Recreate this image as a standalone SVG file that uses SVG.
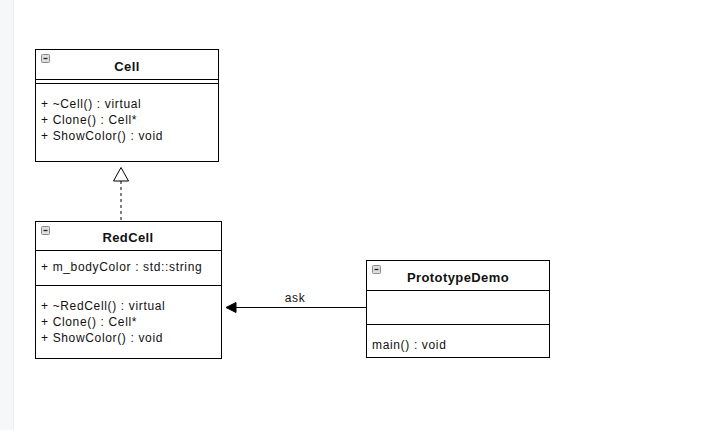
<svg xmlns="http://www.w3.org/2000/svg" width="715" height="430" viewBox="0 0 715 430">
<style>
.box{fill:#fff;stroke:#000;stroke-width:1}
.ln{stroke:#000;stroke-width:1;fill:none}
.t{font-family:"Liberation Sans",Arial,sans-serif;font-size:12px;letter-spacing:0.65px;fill:#111}
.title{font-family:"Liberation Sans",Arial,sans-serif;font-size:13px;letter-spacing:0.4px;font-weight:bold;fill:#111;text-anchor:middle}
.icon{fill:#dedede;stroke:#8a8a8a;stroke-width:1}
.minus{stroke:#222;stroke-width:1.3}
</style>
<rect x="0" y="0" width="715" height="430" fill="#fff"/>
<rect x="0" y="0" width="13" height="430" fill="#f6f7f9"/>
<line x1="13.5" y1="0" x2="13.5" y2="430" stroke="#eceef1"/>
<g id="connectors">
<line x1="121" y1="181" x2="121" y2="221" class="ln" stroke-dasharray="3,3"/>
<polygon points="121,167.5 113.5,181 128.5,181" fill="#fff" stroke="#000"/>
<line x1="366" y1="307.5" x2="233" y2="307.5" class="ln"/>
<polygon points="226,307.5 236,302.5 236,312.5" fill="#000" stroke="#000"/>
<text x="295" y="301.5" class="t" text-anchor="middle">ask</text>
</g>
<g id="Cell">
<rect x="35.5" y="49.5" width="183" height="112" class="box"/>
<line x1="35.5" y1="79.5" x2="218.5" y2="79.5" class="ln"/>
<line x1="35.5" y1="83.5" x2="218.5" y2="83.5" class="ln"/>
<rect x="41.5" y="54.5" width="8" height="8" rx="1" class="icon"/>
<line x1="43.5" y1="58.5" x2="47.5" y2="58.5" class="minus"/>
<text x="127" y="71" class="title">Cell</text>
<text x="41" y="108" class="t">+ ~Cell() : virtual</text>
<text x="41" y="124" class="t">+ Clone() : Cell*</text>
<text x="41" y="140" class="t">+ ShowColor() : void</text>
</g>
<g id="RedCell">
<rect x="35.5" y="221.5" width="186" height="137" class="box"/>
<line x1="35.5" y1="250.5" x2="221.5" y2="250.5" class="ln"/>
<line x1="35.5" y1="285.5" x2="221.5" y2="285.5" class="ln"/>
<rect x="41.5" y="226.5" width="8" height="8" rx="1" class="icon"/>
<line x1="43.5" y1="230.5" x2="47.5" y2="230.5" class="minus"/>
<text x="128" y="242" class="title">RedCell</text>
<text x="41" y="271" class="t">+ m_bodyColor : std::string</text>
<text x="41" y="310" class="t">+ ~RedCell() : virtual</text>
<text x="41" y="326" class="t">+ Clone() : Cell*</text>
<text x="41" y="342" class="t">+ ShowColor() : void</text>
</g>
<g id="PrototypeDemo">
<rect x="366.5" y="260.5" width="183" height="97" class="box"/>
<line x1="366.5" y1="290.5" x2="549.5" y2="290.5" class="ln"/>
<line x1="366.5" y1="324.5" x2="549.5" y2="324.5" class="ln"/>
<rect x="372.5" y="265.5" width="8" height="8" rx="1" class="icon"/>
<line x1="374.5" y1="269.5" x2="378.5" y2="269.5" class="minus"/>
<text x="458" y="282" class="title">PrototypeDemo</text>
<text x="372" y="349" class="t">main() : void</text>
</g>
</svg>
